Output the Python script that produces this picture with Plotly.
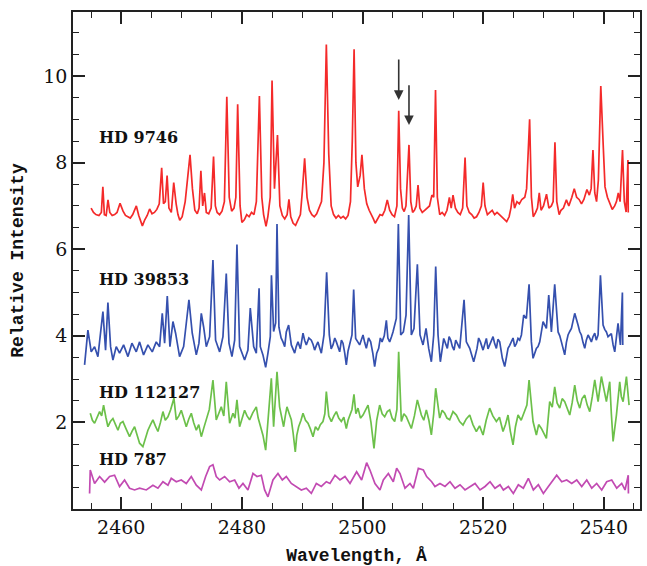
import plotly.graph_objects as go

# ---------------- data ----------------
red_wl = [2455.0, 2455.4, 2455.8, 2456.3, 2456.7, 2456.95, 2457.2, 2457.5, 2457.8, 2458.1, 2458.5, 2458.9, 2459.3, 2459.8,
          2460.3, 2460.7, 2461.1, 2461.5, 2461.9, 2462.5, 2462.9, 2463.2, 2463.5, 2463.9, 2464.3, 2464.7, 2465.1, 2465.5,
          2465.9, 2466.3, 2466.7, 2467.0, 2467.3, 2467.6, 2467.9, 2468.3, 2468.7, 2469.1, 2469.4, 2469.7, 2470.1, 2470.6,
          2471.0, 2471.4, 2471.8, 2472.2, 2472.6, 2472.9, 2473.2, 2473.5, 2473.8, 2474.1, 2474.5, 2474.9, 2475.3, 2475.6,
          2475.9, 2476.3, 2476.7, 2477.1, 2477.5, 2477.9, 2478.3, 2478.7, 2479.0, 2479.3, 2479.7, 2480.0, 2480.4, 2480.8,
          2481.2, 2481.6, 2482.0, 2482.4, 2482.9, 2483.3, 2483.6, 2484.0, 2484.3, 2484.7, 2485.0, 2485.4, 2485.9, 2486.3,
          2486.7, 2487.1, 2487.5, 2487.8, 2488.1, 2488.5, 2488.9, 2489.3, 2489.7, 2490.0, 2490.4, 2490.8, 2491.2, 2491.6,
          2492.0, 2492.4, 2492.8, 2493.2, 2493.6, 2494.0, 2494.4, 2494.8, 2495.2, 2495.6, 2496.0, 2496.4, 2496.8, 2497.2,
          2497.6, 2498.0, 2498.3, 2498.6, 2498.9, 2499.2, 2499.6, 2499.9, 2500.3, 2500.7, 2501.1, 2501.5, 2501.8, 2502.1,
          2502.5, 2502.9, 2503.3, 2503.7, 2504.1, 2504.5, 2504.9, 2505.3, 2505.7, 2506.0, 2506.3, 2506.6, 2506.9, 2507.2,
          2507.7, 2508.0, 2508.3, 2508.6, 2508.9, 2509.2, 2509.5, 2509.9, 2510.3, 2510.7, 2511.1, 2511.5, 2511.8, 2512.1,
          2512.4, 2512.8, 2513.2, 2513.6, 2514.0, 2514.4, 2514.7, 2515.0, 2515.4, 2515.8, 2516.2, 2516.6, 2517.0, 2517.3,
          2517.7, 2518.1, 2518.5, 2518.9, 2519.3, 2519.7, 2520.0, 2520.3, 2520.7, 2521.1, 2521.5, 2521.9, 2522.3, 2522.7,
          2523.1, 2523.5, 2523.9, 2524.3, 2524.6, 2524.9, 2525.2, 2525.6, 2526.0, 2526.4, 2526.9, 2527.2, 2527.7, 2528.0,
          2528.3, 2528.7, 2529.0, 2529.3, 2529.6, 2530.0, 2530.5, 2530.9, 2531.3, 2531.6, 2531.9, 2532.2, 2532.6, 2532.9,
          2533.3, 2533.8, 2534.2, 2534.7, 2535.1, 2535.5, 2535.9, 2536.3, 2536.7, 2537.2, 2537.6, 2537.9, 2538.2, 2538.5,
          2538.8, 2539.1, 2539.5, 2539.9, 2540.2, 2540.6, 2541.0, 2541.4, 2541.8, 2542.1, 2542.4, 2542.7, 2543.1, 2543.4,
          2543.7, 2544.0, 2544.05]
red_int = [6.95, 6.85, 6.80, 6.78, 6.85, 7.44, 6.80, 6.78, 7.14, 6.85, 6.78, 6.80, 6.85, 7.06,
           6.88, 6.78, 6.75, 6.72, 6.80, 7.00, 6.78, 6.65, 6.54, 6.68, 6.78, 6.93, 6.82, 6.85,
           6.92, 7.05, 7.88, 7.05, 7.10, 7.70, 6.95, 6.85, 7.54, 7.05, 6.80, 6.67, 6.75, 7.10,
           7.60, 8.18, 7.40, 6.90, 6.82, 6.95, 7.81, 7.00, 7.30, 6.85, 6.82, 6.95, 8.14, 7.00,
           6.85, 6.80, 6.88, 7.10, 9.52, 7.20, 6.88, 6.95, 7.20, 9.35, 7.00, 6.62, 6.68, 6.80,
           6.75, 6.85, 6.80, 7.10, 9.54, 7.20, 6.80, 6.53, 6.75, 7.20, 9.90, 7.40, 8.64, 7.00,
           6.78, 6.70, 6.80, 7.15, 6.75, 6.60, 6.55, 6.68, 6.80, 7.30, 8.10, 7.20, 6.90, 6.80,
           6.75, 6.82, 6.95, 7.10, 8.00, 10.73, 8.20, 7.00, 6.80, 6.72, 6.78, 6.72, 6.76, 6.70,
           6.78, 7.10, 8.50, 10.62, 8.00, 7.44, 7.70, 8.18, 7.40, 7.05, 6.90, 6.80, 6.70, 6.60,
           6.72, 6.80, 6.78, 6.90, 7.14, 6.90, 6.80, 6.75, 7.00, 9.20, 7.40, 6.95, 6.87, 7.00,
           8.41, 7.10, 6.85, 6.90, 7.00, 7.48, 6.95, 6.85, 6.90, 6.95, 7.00, 7.25, 7.20, 9.68,
           7.20, 6.80, 6.85, 6.78, 6.90, 7.20, 6.95, 7.25, 6.95, 6.85, 6.80, 6.95, 8.12, 7.00,
           6.85, 6.80, 6.72, 6.75, 6.85, 7.00, 7.54, 7.00, 6.80, 6.85, 6.90, 6.80, 6.85, 6.80,
           6.75, 6.68, 6.64, 6.75, 6.95, 7.27, 6.95, 7.10, 7.05, 7.15, 7.20, 7.40, 9.00, 7.20,
           6.75, 6.85, 6.95, 7.30, 6.90, 7.00, 7.27, 6.95, 7.00, 7.10, 8.47, 7.10, 6.80, 6.90,
           6.95, 7.14, 7.00, 7.20, 7.40, 7.20, 7.15, 7.05, 7.15, 7.38, 7.25, 7.40, 8.29, 7.30,
           7.10, 7.60, 9.77, 8.40, 7.44, 7.20, 7.05, 6.92, 7.00, 7.10, 7.30, 7.10, 8.29, 7.10,
           6.86, 8.06, 6.85]

blue_wl = [2453.92, 2454.47, 2455.02, 2455.58, 2456.13, 2456.57, 2456.96, 2457.4, 2457.79, 2458.23, 2458.62, 2459.17,
           2459.72, 2460.39, 2461.11, 2461.77, 2462.49, 2463.04, 2463.7, 2464.42, 2465.14, 2465.8, 2466.36, 2466.8,
           2467.19, 2467.63, 2468.07, 2468.57, 2469.01, 2469.67, 2470.34, 2470.78, 2471.22, 2471.77, 2472.44, 2472.88,
           2473.27, 2473.65, 2474.1, 2474.65, 2475.2, 2475.64, 2476.31, 2476.86, 2477.41, 2477.86, 2478.35, 2478.8,
           2479.18, 2479.62, 2480.45, 2481.0, 2481.39, 2481.95, 2482.39, 2482.85, 2483.05, 2483.49, 2483.94, 2484.32,
           2484.71, 2484.9, 2485.26, 2485.6, 2485.82, 2486.14, 2486.5, 2486.81, 2487.1, 2487.36, 2487.75, 2488.19,
           2488.75, 2489.0, 2489.3, 2489.7, 2490.13, 2490.4, 2490.68, 2491.1, 2491.51, 2491.8, 2492.06, 2492.35,
           2492.61, 2492.9, 2493.17, 2493.61, 2494.05, 2494.49, 2494.8, 2495.1, 2495.4, 2495.66, 2495.95, 2496.21,
           2496.5, 2496.76, 2497.05, 2497.31, 2497.6, 2497.87, 2498.25, 2498.53, 2498.86, 2499.52, 2499.8, 2500.08,
           2500.35, 2500.63, 2501.0, 2501.35, 2501.7, 2502.01, 2502.35, 2502.68, 2502.95, 2503.23, 2503.6, 2503.95,
           2504.2, 2504.5, 2504.8, 2505.05, 2505.6, 2505.94, 2506.33, 2506.77, 2507.21, 2507.65, 2508.09, 2508.53,
           2509.09, 2509.53, 2510.03, 2510.53, 2510.97, 2511.41, 2511.8, 2512.13, 2512.52, 2512.9, 2513.46, 2513.75,
           2514.06, 2514.35, 2514.62, 2514.9, 2515.17, 2515.45, 2515.8, 2516.11, 2516.83, 2517.21, 2517.77, 2518.1,
           2518.43, 2518.7, 2518.98, 2519.25, 2519.54, 2519.98, 2520.25, 2520.53, 2520.8, 2521.08, 2521.35, 2521.64,
           2521.9, 2522.19, 2522.45, 2522.74, 2523.18, 2523.57, 2523.85, 2524.12, 2524.4, 2524.68, 2524.95, 2525.23,
           2525.5, 2525.78, 2526.05, 2526.34, 2526.72, 2527.16, 2527.61, 2527.99, 2528.27, 2528.82, 2529.1, 2529.38,
           2529.65, 2529.93, 2530.48, 2530.87, 2531.31, 2531.86, 2532.42, 2532.7, 2532.97, 2533.25, 2533.52, 2533.8,
           2534.07, 2534.35, 2534.63, 2535.18, 2535.45, 2535.73, 2536.0, 2536.28, 2536.55, 2536.84, 2537.1, 2537.39,
           2537.65, 2537.94, 2538.2, 2538.5, 2538.75, 2539.05, 2539.44, 2539.88, 2540.15, 2540.43, 2540.7, 2540.98,
           2541.25, 2541.54, 2541.81, 2542.36, 2542.75, 2543.08, 2543.14]
blue_int = [3.33, 4.13, 3.63, 3.75, 3.52, 4.06, 4.56, 3.67, 4.77, 3.75, 3.44, 3.75,
            3.60, 3.79, 3.52, 3.83, 3.63, 3.86, 3.56, 3.79, 3.63, 3.86, 3.75, 4.52,
            3.83, 4.92, 3.75, 4.33, 4.06, 3.52, 3.75, 4.29, 4.83, 4.06, 3.56, 3.83,
            4.52, 4.21, 3.75, 3.98, 5.75, 3.90, 3.63, 3.98, 5.44, 3.83, 3.52, 3.90,
            6.11, 3.75, 3.44, 3.67, 4.64, 3.75, 3.60, 5.10, 3.75, 3.56, 3.27, 3.60,
            3.98, 5.40, 4.10, 4.30, 6.58, 4.20, 3.95, 3.86, 3.75, 4.09, 4.25, 3.79,
            3.60, 3.75, 3.86, 3.70, 4.06, 3.90, 3.79, 3.95, 3.90, 3.80, 3.67, 3.78,
            3.86, 3.72, 3.60, 4.02, 5.47, 4.02, 3.70, 3.79, 3.95, 3.86, 3.72, 3.63,
            3.90, 3.83, 3.60, 3.33, 3.65, 3.79, 4.02, 5.07, 3.94, 3.79, 3.92, 4.02,
            3.85, 3.71, 3.95, 3.86, 3.60, 3.29, 3.60, 3.71, 3.95, 3.86, 4.00, 4.36,
            3.95, 3.86, 3.98, 4.09, 4.40, 6.58, 4.02, 4.09, 4.48, 6.79, 4.02, 4.17,
            5.65, 4.02, 3.79, 4.17, 3.71, 3.40, 4.02, 5.60, 4.02, 3.40, 3.94, 3.80,
            3.71, 3.98, 3.90, 3.75, 3.67, 3.90, 3.80, 3.71, 4.83, 3.86, 3.71, 3.58,
            3.40, 3.55, 3.71, 3.95, 3.86, 3.67, 3.78, 3.94, 3.70, 3.79, 3.92, 3.98,
            3.82, 3.71, 3.92, 3.86, 3.48, 3.29, 3.50, 3.71, 3.78, 3.86, 3.95, 3.75,
            3.82, 3.94, 3.90, 4.02, 4.48, 4.40, 5.19, 3.86, 3.48, 3.71, 3.75, 3.86,
            4.05, 4.33, 4.17, 4.94, 4.09, 5.19, 4.09, 4.00, 3.86, 3.70, 3.56, 3.85,
            4.02, 4.10, 4.17, 4.52, 4.35, 4.25, 4.10, 4.02, 3.85, 3.71, 3.90, 4.02,
            3.95, 3.86, 3.98, 4.06, 3.90, 4.02, 5.40, 4.25, 4.15, 4.09, 3.98, 4.02,
            4.05, 3.79, 3.63, 4.29, 3.79, 5.00, 3.79]

green_wl = [2454.86, 2455.22, 2455.58, 2456.0, 2456.41, 2456.75, 2457.07, 2457.45, 2457.79, 2458.2, 2458.62, 2459.05,
            2459.45, 2459.85, 2460.28, 2460.8, 2461.38, 2461.8, 2462.21, 2462.6, 2463.04, 2463.59, 2464.0, 2464.42,
            2464.85, 2465.25, 2465.65, 2466.08, 2466.5, 2466.91, 2467.3, 2467.74, 2468.2, 2468.73, 2469.12, 2469.55,
            2469.95, 2470.35, 2470.78, 2471.2, 2471.61, 2472.0, 2472.44, 2472.85, 2473.27, 2473.7, 2474.1, 2474.6,
            2475.2, 2475.75, 2476.15, 2476.58, 2477.0, 2477.41, 2477.97, 2478.52, 2478.85, 2479.18, 2479.62, 2480.05,
            2480.45, 2480.85, 2481.28, 2481.8, 2482.39, 2482.7, 2483.05, 2483.5, 2483.94, 2484.4, 2484.88, 2485.26,
            2485.82, 2486.25, 2486.6, 2486.92, 2487.2, 2487.47, 2487.85, 2488.19, 2488.5, 2488.85, 2489.1, 2489.41,
            2489.8, 2490.13, 2490.55, 2490.96, 2491.35, 2491.79, 2492.2, 2492.62, 2493.0, 2493.44, 2493.75, 2494.0,
            2494.4, 2494.83, 2495.25, 2495.66, 2496.05, 2496.48, 2496.9, 2497.31, 2497.6, 2497.87, 2498.25, 2498.58,
            2498.9, 2499.25, 2499.65, 2500.08, 2500.5, 2500.91, 2501.4, 2501.9, 2502.35, 2502.84, 2503.25, 2503.67,
            2504.1, 2504.5, 2504.9, 2505.33, 2505.7, 2505.99, 2506.43, 2506.85, 2507.26, 2507.65, 2508.09, 2508.6,
            2509.09, 2509.75, 2510.15, 2510.58, 2511.0, 2511.41, 2511.8, 2512.13, 2512.79, 2513.2, 2513.62, 2514.0,
            2514.45, 2515.0, 2515.56, 2516.1, 2516.66, 2517.2, 2517.77, 2518.3, 2518.87, 2519.4, 2519.98, 2520.5,
            2521.08, 2521.6, 2522.19, 2522.7, 2523.29, 2523.7, 2524.12, 2524.5, 2524.95, 2525.35, 2525.78, 2526.3,
            2526.89, 2527.25, 2527.61, 2528.27, 2528.82, 2529.2, 2529.65, 2530.05, 2530.48, 2531.03, 2531.45, 2531.86,
            2532.25, 2532.69, 2533.1, 2533.52, 2533.95, 2534.35, 2534.75, 2535.18, 2535.6, 2536.01, 2536.4, 2536.84,
            2537.25, 2537.67, 2538.1, 2538.5, 2539.05, 2539.6, 2540.43, 2540.7, 2540.98, 2541.25, 2541.54, 2542.09,
            2542.35, 2542.64, 2542.9, 2543.2, 2543.5, 2543.75, 2544.19]
green_int = [2.21, 2.05, 1.98, 2.10, 2.25, 2.15, 2.40, 2.12, 1.90, 2.02, 2.09, 1.95,
             1.82, 1.98, 2.02, 1.85, 1.67, 1.80, 1.90, 1.72, 1.52, 1.44, 1.65, 1.82,
             1.95, 2.06, 1.92, 1.79, 2.00, 2.25, 2.05, 2.13, 2.30, 2.56, 2.06, 2.15,
             2.28, 2.10, 1.90, 2.08, 2.21, 2.00, 1.82, 1.95, 1.67, 1.88, 2.06, 2.30,
             2.98, 2.06, 2.20, 2.36, 2.15, 2.94, 1.98, 2.21, 2.10, 2.52, 1.90, 2.12,
             2.28, 2.15, 2.06, 2.22, 2.36, 2.10, 1.90, 1.70, 1.36, 2.10, 3.02, 1.90,
             3.17, 2.36, 2.10, 1.90, 2.15, 2.36, 2.20, 2.06, 1.75, 1.32, 1.70, 1.90,
             2.05, 2.21, 2.05, 1.98, 1.85, 1.67, 1.90, 1.82, 1.95, 2.02, 2.20, 2.71,
             2.15, 2.02, 2.15, 2.25, 2.10, 2.02, 2.12, 1.86, 2.05, 2.17, 2.30, 2.65,
             2.20, 2.33, 2.10, 2.17, 2.30, 2.40, 2.00, 1.40, 2.05, 2.40, 2.20, 2.13,
             2.25, 2.29, 2.10, 2.02, 2.30, 3.63, 2.02, 2.20, 2.13, 2.00, 1.86, 2.15,
             2.52, 2.17, 2.05, 2.29, 2.05, 1.71, 2.20, 2.79, 2.10, 2.28, 2.21, 2.10,
             2.06, 2.25, 2.17, 2.02, 1.94, 2.08, 2.17, 1.95, 1.79, 1.92, 1.71, 2.05,
             2.33, 2.15, 2.02, 2.12, 1.79, 1.95, 2.17, 1.80, 1.48, 1.90, 2.17, 2.05,
             2.29, 2.40, 2.98, 2.02, 1.71, 1.95, 1.86, 1.75, 1.63, 2.48, 2.35, 2.82,
             2.45, 2.33, 2.55, 2.48, 2.30, 2.17, 2.45, 2.86, 2.50, 2.33, 2.55, 2.63,
             2.40, 2.25, 2.60, 2.98, 2.48, 3.06, 2.48, 2.70, 2.94, 2.20, 1.56, 2.17,
             2.60, 2.94, 2.60, 2.48, 2.80, 3.06, 2.40]

mag_wl = [2454.75, 2454.86, 2455.58, 2456.41, 2457.24, 2458.07, 2458.89, 2459.72, 2460.55, 2461.38, 2462.21, 2463.04,
          2464.15, 2465.25, 2466.08, 2466.91, 2467.74, 2468.29, 2469.12, 2469.95, 2470.78, 2471.61, 2472.44, 2473.27,
          2473.99, 2474.65, 2475.2, 2475.75, 2476.31, 2477.14, 2477.97, 2478.8, 2479.51, 2480.18, 2481.0, 2481.84,
          2482.5, 2483.22, 2483.77, 2484.32, 2485.15, 2485.98, 2486.7, 2487.36, 2488.19, 2489.02, 2489.85, 2490.68,
          2491.51, 2492.34, 2493.17, 2494.0, 2494.6, 2495.43, 2496.26, 2497.09, 2497.92, 2499.02, 2499.85, 2500.68,
          2501.23, 2502.06, 2502.89, 2503.45, 2504.28, 2505.1, 2505.66, 2506.21, 2507.04, 2507.87, 2508.42, 2509.25,
          2510.08, 2510.63, 2511.46, 2512.01, 2512.84, 2513.67, 2514.5, 2515.33, 2516.16, 2516.99, 2517.82, 2518.65,
          2519.48, 2520.31, 2521.14, 2521.96, 2522.79, 2523.35, 2524.18, 2525.0, 2525.83, 2526.66, 2527.49, 2528.32,
          2529.15, 2529.98, 2530.81, 2531.64, 2532.19, 2533.02, 2533.85, 2534.68, 2535.51, 2536.34, 2537.17, 2538.0,
          2538.82, 2539.65, 2540.48, 2541.31, 2542.14, 2542.97, 2543.52, 2544.05, 2544.08]
mag_int = [0.36, 0.90, 0.59, 0.75, 0.62, 0.75, 0.78, 0.52, 0.67, 0.48, 0.44, 0.48,
           0.44, 0.55, 0.48, 0.63, 0.55, 0.71, 0.63, 0.67, 0.59, 0.75, 0.55, 0.44,
           0.75, 0.98, 1.02, 0.75, 0.67, 0.75, 0.63, 0.67, 0.48, 0.59, 0.44, 0.82,
           0.75, 0.78, 0.44, 0.28, 0.67, 0.82, 0.67, 0.75, 0.59, 0.52, 0.44, 0.48,
           0.36, 0.59, 0.52, 0.63, 0.59, 0.78, 0.67, 0.75, 0.59, 0.86, 0.67, 1.07,
           0.90, 0.59, 0.44, 0.67, 0.82, 0.63, 0.94, 0.82, 0.48, 0.59, 0.48, 0.94,
           0.90, 0.75, 0.63, 0.52, 0.59, 0.52, 0.63, 0.48, 0.56, 0.44, 0.52, 0.59,
           0.44, 0.52, 0.63, 0.48, 0.56, 0.44, 0.52, 0.36, 0.56, 0.48, 0.71, 0.44,
           0.56, 0.36, 0.52, 0.67, 0.78, 0.63, 0.67, 0.59, 0.67, 0.52, 0.67, 0.48,
           0.59, 0.44, 0.63, 0.67, 0.48, 0.59, 0.44, 0.78, 0.36]

star_names = ["HD 9746", "HD 39853", "HD 112127", "HD 787"]
label_wl = [2455.9, 2455.9, 2455.9, 2455.9]
label_int = [8.57, 5.29, 2.70, 1.15]

arrow_wl = [2506.0, 2507.7]
arrow_top = [10.42, 9.82]
arrow_tip = [9.45, 8.87]

colors = ["#f42a2a", "#3550ae", "#6cc04a", "#c24ab2"]

fig = go.Figure()
series = [(red_wl, red_int), (blue_wl, blue_int), (green_wl, green_int), (mag_wl, mag_int)]
for (wl, it), c, name in zip(series, colors, star_names):
    fig.add_trace(go.Scatter(x=wl, y=it, mode="lines", name=name,
                             line=dict(color=c, width=1.7), showlegend=False))

for name, lx, ly in zip(star_names, label_wl, label_int):
    fig.add_annotation(x=lx, y=ly, text="<b>" + name + "</b>", showarrow=False,
                       xanchor="left", yanchor="middle",
                       font=dict(family="DejaVu Serif", size=16, color="#111"))

for ax_, top, tip in zip(arrow_wl, arrow_top, arrow_tip):
    fig.add_annotation(x=ax_, y=tip, ax=ax_, ay=top, axref="x", ayref="y",
                       xref="x", yref="y", text="", showarrow=True,
                       arrowhead=2, arrowsize=1.2, arrowwidth=1.6, arrowcolor="#333")

tickfont = dict(family="DejaVu Serif", size=19, color="#111")
fig.update_xaxes(range=[2452, 2546], showline=True, linecolor="#222", linewidth=1.6,
                 mirror="allticks", ticks="inside", ticklen=12, tickwidth=1.5, tickcolor="#222",
                 tick0=2460, dtick=20, showgrid=False, zeroline=False, tickfont=tickfont,
                 minor=dict(dtick=5, tick0=2455, ticks="inside", ticklen=6, tickwidth=1.3, tickcolor="#222", showgrid=False),
                 title=dict(text="<b>Wavelength, Å</b>", font=dict(family="Liberation Mono", size=18, color="#111"), standoff=17))
fig.update_yaxes(range=[0, 11.48], showline=True, linecolor="#222", linewidth=1.6,
                 mirror="allticks", ticks="inside", ticklen=12, tickwidth=1.5, tickcolor="#222",
                 tickvals=[2, 4, 6, 8, 10], showgrid=False, zeroline=False, tickfont=tickfont,
                 minor=dict(dtick=0.5, tick0=0, ticks="inside", ticklen=6, tickwidth=1.3, tickcolor="#222", showgrid=False),
                 title=dict(text="<b>Relative Intensity</b>", font=dict(family="Liberation Mono", size=18, color="#111"), standoff=15))

fig.update_layout(width=647, height=566, margin=dict(l=73, r=7, t=12, b=57, autoexpand=False),
                  plot_bgcolor="white", paper_bgcolor="white")
fig.write_html("out.html")
